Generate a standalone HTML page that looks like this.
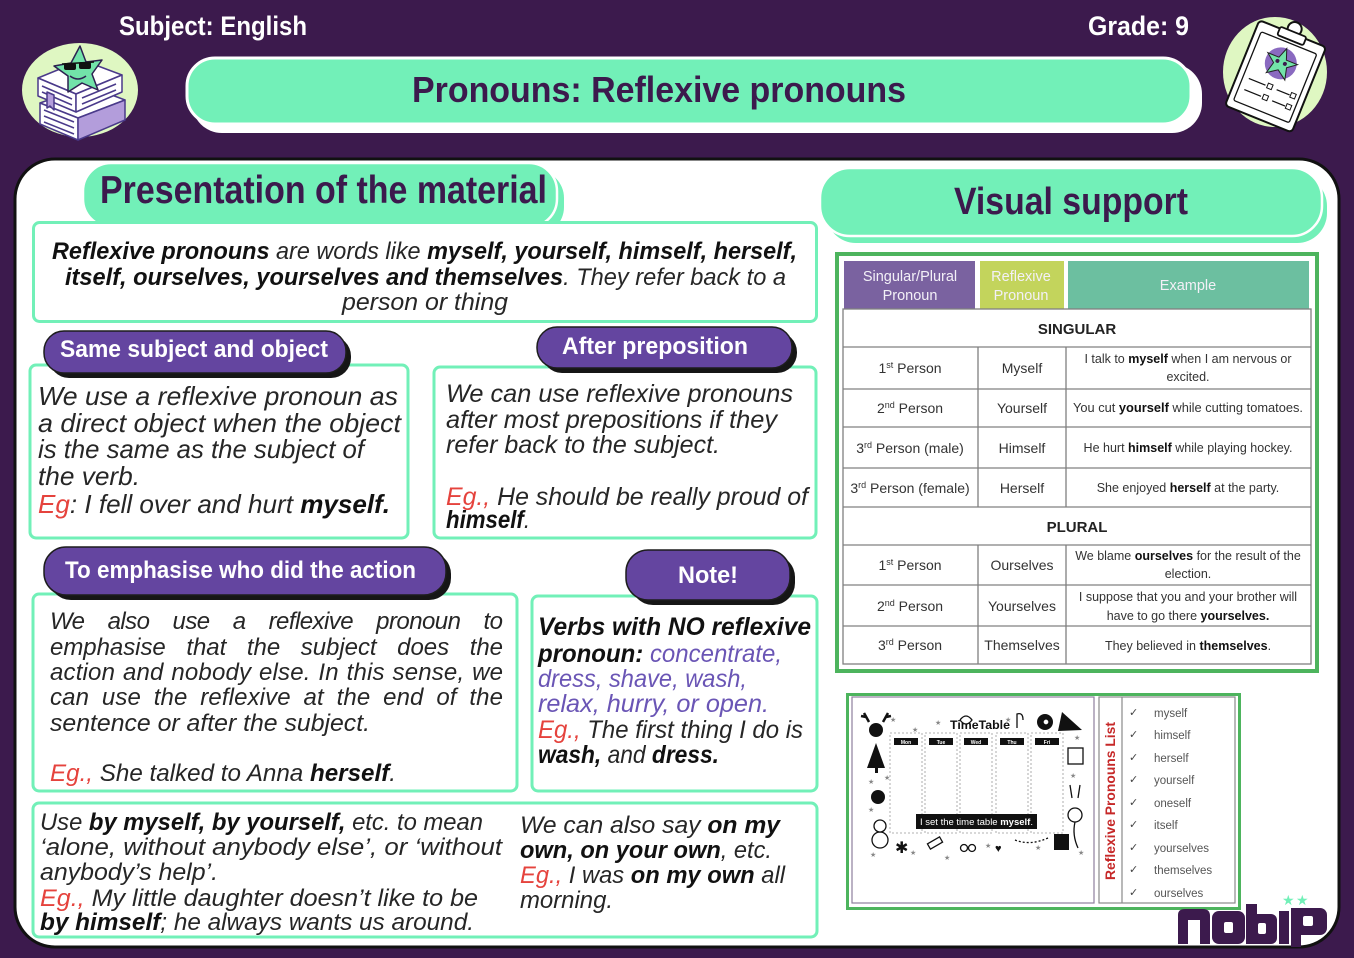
<!DOCTYPE html>
<html><head><meta charset="utf-8"><title>Pronouns: Reflexive pronouns</title>
<style>html,body{margin:0;padding:0;background:#3c1a4d;}svg{display:block}</style></head>
<body>
<svg width="1354" height="958" viewBox="0 0 1354 958" xmlns="http://www.w3.org/2000/svg">
<style>
text{font-family:"Liberation Sans","DejaVu Sans",sans-serif;}
.h{font-weight:bold;fill:#fff;font-size:27px}
.tt{font-weight:bold;fill:#3c1a4d}
.pl{font-weight:bold;fill:#fff;font-size:24px}
.b{font-style:italic;fill:#262626}
.k{font-weight:bold;fill:#111}
.r{fill:#e5433d}
.v{fill:#6a55b5}
.tb{font-size:14px;fill:#333;text-anchor:middle}
.ex{font-size:12.5px;fill:#333;text-anchor:middle}
.th{font-size:14.5px;fill:#f3f0f7;text-anchor:middle}
.li{font-size:11.5px;fill:#555}
.ck{font-size:11px;fill:#444}
</style>
<rect x="0" y="0" width="1354" height="958" fill="#3c1a4d"/>

<!-- header -->
<text class="h" x="119" y="35" textLength="188" lengthAdjust="spacingAndGlyphs">Subject: English</text>
<text class="h" x="1088" y="35" textLength="101" lengthAdjust="spacingAndGlyphs">Grade: 9</text>

<!-- title pill -->
<rect x="192" y="64" width="1010" height="69" rx="30" fill="#ffffff"/>
<rect x="187" y="58" width="1004" height="66" rx="28" fill="#72f0b8" stroke="#ffffff" stroke-width="3"/>
<text class="tt" x="412" y="102" font-size="36" textLength="494" lengthAdjust="spacingAndGlyphs">Pronouns: Reflexive pronouns</text>

<!-- left icon -->
<ellipse cx="80" cy="90" rx="58" ry="47" fill="#dff7c2"/>
<g stroke="#4a3a8a" stroke-width="1.5" stroke-linejoin="round">
  <polygon points="40,103 88,86 125,100 78,118" fill="#ffffff"/>
  <polygon points="40,103 78,118 78,140 40,124" fill="#ffffff"/>
  <polygon points="78,118 125,100 125,120 78,140" fill="#b39ddb"/>
  <line x1="44" y1="110" x2="74" y2="122"/><line x1="44" y1="116" x2="74" y2="128"/><line x1="44" y1="122" x2="74" y2="134"/>
  <polygon points="38,78 82,60 122,75 76,94" fill="#ffffff"/>
  <polygon points="38,78 76,94 76,112 38,96" fill="#ffffff"/>
  <polygon points="76,94 122,75 122,92 76,112" fill="#ffffff"/>
  <line x1="82" y1="98" x2="116" y2="84"/><line x1="82" y1="104" x2="116" y2="90"/>
  <line x1="42" y1="86" x2="72" y2="99"/><line x1="42" y1="92" x2="72" y2="105"/>
  <polygon points="47,92 54,95 54,110 50,106 47,108" fill="#b39ddb"/>
</g>
<polygon points="80,46 86,62 102,60 92,74 98,90 82,83 68,92 68,76 54,66 71,63" fill="#72e3a9" stroke="#2d2050" stroke-width="1.5" stroke-linejoin="round"/>
<rect x="64" y="63" width="12" height="7" rx="2" fill="#111"/>
<rect x="79" y="62" width="12" height="7" rx="2" fill="#111"/>
<line x1="62" y1="64" x2="94" y2="62" stroke="#111" stroke-width="1.5"/>
<path d="M70,76 Q78,82 86,76" fill="none" stroke="#2d2050" stroke-width="1.5"/>

<!-- right icon -->
<ellipse cx="1275" cy="72" rx="52" ry="55" fill="#dff7c2"/>
<g transform="rotate(22 1275 75)">
  <rect x="1240" y="30" width="72" height="92" rx="4" fill="#ffffff" stroke="#111" stroke-width="2"/>
  <rect x="1246" y="40" width="60" height="74" rx="2" fill="#ffffff" stroke="#111" stroke-width="1.3"/>
  <circle cx="1276" cy="25" r="7" fill="#fff" stroke="#111" stroke-width="2"/>
  <rect x="1262" y="28" width="28" height="9" rx="2" fill="#ffffff" stroke="#111" stroke-width="1.8"/>
  <circle cx="1276" cy="62" r="16" fill="#8a6ac0"/>
  <polygon points="1276,46 1280,57 1292,57 1283,64 1286,76 1276,69 1266,76 1269,64 1260,57 1272,57" fill="#72e3a9" stroke="#222" stroke-width="1"/>
  <circle cx="1272" cy="61" r="2" fill="#3c1a4d"/><circle cx="1280" cy="61" r="2" fill="#3c1a4d"/>
  <line x1="1252" y1="88" x2="1270" y2="88" stroke="#111" stroke-width="1.3"/>
  <rect x="1272" y="85" width="5" height="5" fill="none" stroke="#111"/>
  <line x1="1282" y1="88" x2="1296" y2="88" stroke="#111" stroke-width="1.3"/>
  <rect x="1297" y="85" width="5" height="5" fill="none" stroke="#111"/>
  <line x1="1252" y1="100" x2="1270" y2="100" stroke="#111" stroke-width="1.3"/>
  <rect x="1272" y="97" width="5" height="5" fill="none" stroke="#111"/>
  <line x1="1282" y1="100" x2="1296" y2="100" stroke="#111" stroke-width="1.3"/>
  <rect x="1297" y="97" width="5" height="5" fill="none" stroke="#111"/>
</g>

<!-- main white panel -->
<rect x="15" y="159" width="1324" height="788" rx="40" fill="#ffffff" stroke="#111" stroke-width="3"/>

<!-- Presentation pill -->
<rect x="89" y="170" width="475" height="65" rx="28" fill="#72f0b8"/>
<rect x="83" y="163" width="474" height="64" rx="28" fill="#72f0b8" stroke="#ffffff" stroke-width="2.5"/>
<text class="tt" x="100" y="203" font-size="39" textLength="447" lengthAdjust="spacingAndGlyphs">Presentation of the material</text>

<!-- Visual support pill -->
<rect x="826" y="176" width="501" height="67" rx="30" fill="#72f0b8"/>
<rect x="820" y="168" width="502" height="68" rx="30" fill="#72f0b8" stroke="#ffffff" stroke-width="2.5"/>
<text class="tt" x="954" y="214" font-size="38" textLength="234" lengthAdjust="spacingAndGlyphs">Visual support</text>

<!-- green boxes -->
<g fill="#ffffff" stroke="#72f0b8" stroke-width="3">
  <rect x="33.5" y="222.5" width="783" height="99" rx="6"/>
  <rect x="30" y="365" width="378" height="173" rx="6"/>
  <rect x="434" y="367" width="382" height="171" rx="6"/>
  <rect x="33" y="594" width="484" height="197" rx="6"/>
  <rect x="532" y="596" width="285" height="195" rx="6"/>
  <rect x="33" y="803" width="784" height="134" rx="6"/>
</g>

<!-- purple pills -->
<g>
  <rect x="49" y="336" width="302" height="42" rx="20" fill="#161616"/>
  <rect x="44" y="331" width="302" height="42" rx="20" fill="#6445a0" stroke="#1d1d1d" stroke-width="1.5"/>
  <rect x="542" y="332" width="255" height="41" rx="20" fill="#161616"/>
  <rect x="537" y="327" width="255" height="41" rx="20" fill="#6445a0" stroke="#1d1d1d" stroke-width="1.5"/>
  <rect x="49" y="552" width="402" height="48" rx="22" fill="#161616"/>
  <rect x="44" y="547" width="402" height="48" rx="22" fill="#6445a0" stroke="#1d1d1d" stroke-width="1.5"/>
  <rect x="631" y="555" width="164" height="50" rx="22" fill="#161616"/>
  <rect x="626" y="550" width="164" height="50" rx="22" fill="#6445a0" stroke="#1d1d1d" stroke-width="1.5"/>
</g>
<text class="pl" x="60" y="357" textLength="268" lengthAdjust="spacingAndGlyphs">Same subject and object</text>
<text class="pl" x="562" y="354" textLength="186" lengthAdjust="spacingAndGlyphs">After preposition</text>
<text class="pl" x="65" y="578" textLength="351" lengthAdjust="spacingAndGlyphs">To emphasise who did the action</text>
<text class="pl" x="678" y="583" textLength="60" lengthAdjust="spacingAndGlyphs">Note!</text>

<!-- definition -->
<g class="b" font-size="24">
<text x="52" y="259" textLength="745" lengthAdjust="spacingAndGlyphs"><tspan class="k">Reflexive pronouns</tspan> are words like <tspan class="k">myself, yourself, himself, herself,</tspan></text>
<text x="65" y="285" textLength="721" lengthAdjust="spacingAndGlyphs"><tspan class="k">itself, ourselves, yourselves and themselves</tspan>. They refer back to a</text>
<text x="342" y="310" textLength="166" lengthAdjust="spacingAndGlyphs">person or thing</text>
</g>

<!-- box1 -->
<g class="b" font-size="26">
<text x="38" y="405" textLength="360" lengthAdjust="spacingAndGlyphs">We use a reflexive pronoun as</text>
<text x="38" y="432" textLength="363" lengthAdjust="spacingAndGlyphs">a direct object when the object</text>
<text x="38" y="458" textLength="326" lengthAdjust="spacingAndGlyphs">is the same as the subject of</text>
<text x="38" y="485" textLength="102" lengthAdjust="spacingAndGlyphs">the verb.</text>
<text x="38" y="513" textLength="352" lengthAdjust="spacingAndGlyphs"><tspan class="r">Eg</tspan>:  I fell over and hurt <tspan class="k">myself.</tspan></text>
</g>

<!-- box2 -->
<g class="b" font-size="25">
<text x="446" y="402" textLength="347" lengthAdjust="spacingAndGlyphs">We can use reflexive pronouns</text>
<text x="446" y="428" textLength="331" lengthAdjust="spacingAndGlyphs">after most prepositions if they</text>
<text x="446" y="453" textLength="274" lengthAdjust="spacingAndGlyphs">refer back to the subject.</text>
<text x="446" y="505" textLength="362" lengthAdjust="spacingAndGlyphs"><tspan class="r">Eg.,</tspan> He should be really proud of</text>
<text x="446" y="528" textLength="84" lengthAdjust="spacingAndGlyphs"><tspan class="k">himself</tspan>.</text>
</g>

<!-- box3 -->
<g class="b" font-size="24">
<text x="50" y="629" word-spacing="17" textLength="453" lengthAdjust="spacing">We also use a reflexive pronoun to</text>
<text x="50" y="655" word-spacing="14" textLength="453" lengthAdjust="spacing">emphasise that the subject does the</text>
<text x="50" y="680" word-spacing="1" textLength="453" lengthAdjust="spacing">action and nobody else. In this sense, we</text>
<text x="50" y="705" word-spacing="6" textLength="453" lengthAdjust="spacing">can use the reflexive at the end of the</text>
<text x="50" y="731" textLength="320" lengthAdjust="spacingAndGlyphs">sentence or after the subject.</text>
<text x="50" y="781" textLength="346" lengthAdjust="spacingAndGlyphs"><tspan class="r">Eg.,</tspan> She talked to Anna <tspan class="k">herself</tspan>.</text>
</g>

<!-- box4 -->
<g class="b" font-size="25">
<text x="538" y="635" textLength="273" lengthAdjust="spacingAndGlyphs"><tspan class="k">Verbs with NO reflexive</tspan></text>
<text x="538" y="662" textLength="244" lengthAdjust="spacingAndGlyphs"><tspan class="k">pronoun:</tspan> <tspan class="v">concentrate,</tspan></text>
<text x="538" y="687" textLength="209" lengthAdjust="spacingAndGlyphs"><tspan class="v">dress, shave, wash,</tspan></text>
<text x="538" y="712" textLength="231" lengthAdjust="spacingAndGlyphs"><tspan class="v">relax, hurry, or open.</tspan></text>
<text x="538" y="738" textLength="265" lengthAdjust="spacingAndGlyphs"><tspan class="r">Eg.,</tspan> The first thing I do is</text>
<text x="538" y="763" textLength="181" lengthAdjust="spacingAndGlyphs"><tspan class="k">wash,</tspan> and <tspan class="k">dress.</tspan></text>
</g>

<!-- box5 -->
<g class="b" font-size="24">
<text x="40" y="830" textLength="443" lengthAdjust="spacingAndGlyphs">Use <tspan class="k">by myself, by yourself,</tspan> etc. to mean</text>
<text x="40" y="855" textLength="462" lengthAdjust="spacingAndGlyphs">‘alone, without anybody else’, or ‘without</text>
<text x="40" y="880" textLength="178" lengthAdjust="spacingAndGlyphs">anybody’s help’.</text>
<text x="40" y="906" textLength="438" lengthAdjust="spacingAndGlyphs"><tspan class="r">Eg.,</tspan> My little daughter doesn’t like to be</text>
<text x="40" y="930" textLength="434" lengthAdjust="spacingAndGlyphs"><tspan class="k">by himself</tspan>; he always wants us around.</text>
<text x="520" y="833" textLength="260" lengthAdjust="spacingAndGlyphs">We can also say <tspan class="k">on my</tspan></text>
<text x="520" y="858" textLength="252" lengthAdjust="spacingAndGlyphs"><tspan class="k">own, on your own</tspan>, etc.</text>
<text x="520" y="883" textLength="265" lengthAdjust="spacingAndGlyphs"><tspan class="r">Eg.,</tspan> I was <tspan class="k">on my own</tspan> all</text>
<text x="520" y="908" textLength="93" lengthAdjust="spacingAndGlyphs">morning.</text>
</g>

<!-- TABLE -->
<rect x="837" y="254" width="480" height="417" fill="#ffffff" stroke="#4db45d" stroke-width="4"/>
<rect x="844" y="261" width="131" height="48" fill="#7a62a0"/>
<rect x="980" y="261" width="84" height="48" fill="#c3d45c"/>
<rect x="1068" y="261" width="241" height="48" fill="#6cbfa0"/>
<text class="th" x="910" y="281">Singular/Plural</text>
<text class="th" x="910" y="300">Pronoun</text>
<text class="th" x="1021" y="281">Reflexive</text>
<text class="th" x="1021" y="300">Pronoun</text>
<text class="th" x="1188" y="290">Example</text>
<g stroke="#808080" stroke-width="1.3" fill="none">
  <rect x="843" y="309" width="468" height="355"/>
  <line x1="843" y1="347" x2="1311" y2="347"/>
  <line x1="843" y1="389" x2="1311" y2="389"/>
  <line x1="843" y1="427" x2="1311" y2="427"/>
  <line x1="843" y1="468" x2="1311" y2="468"/>
  <line x1="843" y1="507" x2="1311" y2="507"/>
  <line x1="843" y1="545" x2="1311" y2="545"/>
  <line x1="843" y1="585" x2="1311" y2="585"/>
  <line x1="843" y1="626" x2="1311" y2="626"/>
  <line x1="978" y1="347" x2="978" y2="507"/>
  <line x1="1066" y1="347" x2="1066" y2="507"/>
  <line x1="978" y1="545" x2="978" y2="664"/>
  <line x1="1066" y1="545" x2="1066" y2="664"/>
</g>
<text x="1077" y="334" font-size="15" font-weight="bold" fill="#222" text-anchor="middle">SINGULAR</text>
<text x="1077" y="532" font-size="15" font-weight="bold" fill="#222" text-anchor="middle">PLURAL</text>

<text class="tb" x="910" y="373">1<tspan font-size="9" dy="-5">st</tspan><tspan dy="5"> Person</tspan></text>
<text class="tb" x="1022" y="373">Myself</text>
<text class="ex" x="1188" y="363">I talk to <tspan class="k">myself</tspan> when I am nervous or</text>
<text class="ex" x="1188" y="381">excited.</text>

<text class="tb" x="910" y="413">2<tspan font-size="9" dy="-5">nd</tspan><tspan dy="5"> Person</tspan></text>
<text class="tb" x="1022" y="413">Yourself</text>
<text class="ex" x="1188" y="412" textLength="230" lengthAdjust="spacingAndGlyphs">You cut <tspan class="k">yourself</tspan> while cutting tomatoes.</text>

<text class="tb" x="910" y="453">3<tspan font-size="9" dy="-5">rd</tspan><tspan dy="5"> Person (male)</tspan></text>
<text class="tb" x="1022" y="453">Himself</text>
<text class="ex" x="1188" y="452">He hurt <tspan class="k">himself</tspan> while playing hockey.</text>

<text class="tb" x="910" y="493">3<tspan font-size="9" dy="-5">rd</tspan><tspan dy="5"> Person (female)</tspan></text>
<text class="tb" x="1022" y="493">Herself</text>
<text class="ex" x="1188" y="492">She enjoyed <tspan class="k">herself</tspan> at the party.</text>

<text class="tb" x="910" y="570">1<tspan font-size="9" dy="-5">st</tspan><tspan dy="5"> Person</tspan></text>
<text class="tb" x="1022" y="570">Ourselves</text>
<text class="ex" x="1188" y="560">We blame <tspan class="k">ourselves</tspan> for the result of the</text>
<text class="ex" x="1188" y="578">election.</text>

<text class="tb" x="910" y="611">2<tspan font-size="9" dy="-5">nd</tspan><tspan dy="5"> Person</tspan></text>
<text class="tb" x="1022" y="611">Yourselves</text>
<text class="ex" x="1188" y="601">I suppose that you and your brother will</text>
<text class="ex" x="1188" y="620">have to go there <tspan class="k">yourselves.</tspan></text>

<text class="tb" x="910" y="650">3<tspan font-size="9" dy="-5">rd</tspan><tspan dy="5"> Person</tspan></text>
<text class="tb" x="1022" y="650">Themselves</text>
<text class="ex" x="1188" y="650">They believed in <tspan class="k">themselves</tspan>.</text>

<!-- bottom image -->
<rect x="847.5" y="694.5" width="392" height="214" fill="#ffffff" stroke="#4db45d" stroke-width="3"/>
<rect x="852" y="697" width="242" height="206" fill="#ffffff" stroke="#8e7f9c" stroke-width="1.2"/>
<rect x="1099" y="697" width="136" height="206" fill="#ffffff" stroke="#8a8a8a" stroke-width="1.2"/>
<line x1="1122" y1="697" x2="1122" y2="903" stroke="#8a8a8a" stroke-width="1.2"/>
<text transform="translate(1115,801) rotate(-90)" text-anchor="middle" font-size="14" font-weight="bold" fill="#c62828" textLength="158" lengthAdjust="spacingAndGlyphs">Reflexive Pronouns List</text>
<g class="ck">
<text x="1129" y="716">✓</text><text x="1129" y="738">✓</text><text x="1129" y="761">✓</text>
<text x="1129" y="783">✓</text><text x="1129" y="806">✓</text><text x="1129" y="828">✓</text>
<text x="1129" y="851">✓</text><text x="1129" y="873">✓</text><text x="1129" y="896">✓</text>
</g>
<g class="li">
<text x="1154" y="717">myself</text>
<text x="1154" y="739">himself</text>
<text x="1154" y="762">herself</text>
<text x="1154" y="784">yourself</text>
<text x="1154" y="807">oneself</text>
<text x="1154" y="829">itself</text>
<text x="1154" y="852">yourselves</text>
<text x="1154" y="874">themselves</text>
<text x="1154" y="897">ourselves</text>
</g>

<!-- timetable illustration -->
<text x="950" y="729" font-size="12" font-weight="bold" fill="#111" textLength="60" lengthAdjust="spacingAndGlyphs">TimeTable</text>
<g fill="none" stroke="#999" stroke-width="0.8" stroke-dasharray="2 2">
  <rect x="890" y="733" width="32" height="100"/>
  <rect x="925" y="733" width="32" height="100"/>
  <rect x="960" y="733" width="32" height="100"/>
  <rect x="996" y="733" width="32" height="100"/>
  <rect x="1031" y="733" width="32" height="100"/>
</g>
<g fill="#111">
  <rect x="894" y="738" width="24" height="7"/><rect x="929" y="738" width="24" height="7"/>
  <rect x="964" y="738" width="24" height="7"/><rect x="1000" y="738" width="24" height="7"/>
  <rect x="1035" y="738" width="24" height="7"/>
</g>
<g font-size="5" fill="#fff" text-anchor="middle" font-weight="bold">
  <text x="906" y="744">Mon</text><text x="941" y="744">Tue</text><text x="976" y="744">Wed</text>
  <text x="1012" y="744">Thu</text><text x="1047" y="744">Fri</text>
</g>
<rect x="916" y="814" width="121" height="15" fill="#111"/>
<text x="920" y="825" font-size="9" fill="#fff" textLength="113" lengthAdjust="spacingAndGlyphs">I set the time table <tspan font-weight="bold">myself</tspan>.</text>
<!-- decorations -->
<g fill="#111">
  <circle cx="876" cy="730" r="7"/>
  <path d="M869,722 L864,713 M866,717 L861,716 M883,722 L888,713 M886,717 L891,716" stroke="#111" stroke-width="2.5"/>
  <polygon points="876,743 867,768 885,768"/>
  <rect x="875" y="768" width="3" height="5"/>
  <circle cx="878" cy="797" r="7"/>
  <rect x="1054" y="834" width="15" height="16"/>
  <polygon points="1062,712 1082,730 1058,731"/>
  <circle cx="1045" cy="722" r="8"/>
  <text x="895" y="853" font-size="16">✱</text>
  <text x="995" y="852" font-size="11">♥</text>
</g>
<g fill="#fff" stroke="#111" stroke-width="1.3">
  <circle cx="880" cy="840" r="8"/><circle cx="880" cy="826" r="6"/>
  <rect x="1068" y="748" width="15" height="16"/>
  <circle cx="1075" cy="815" r="7"/>
  <circle cx="1046" cy="722" r="3"/>
  <rect x="928" y="840" width="14" height="6" transform="rotate(-30 935 843)"/>
  <circle cx="964" cy="848" r="3.5"/><circle cx="972" cy="848" r="3.5"/>
  <path d="M1070,785 L1072,798 M1080,785 L1078,798" fill="none"/>
  <path d="M1075,822 Q1072,835 1078,848" fill="none"/>
  <path d="M1015,840 Q1030,846 1048,838" fill="none" stroke-dasharray="2 2"/>
  <path d="M1023,720 Q1023,712 1017,714 L1017,728" fill="none"/>
  <path d="M960,720 q6,-8 12,0 q-6,8 -12,0" />
</g>
<g font-size="7" fill="#888">
  <text x="890" y="722">★</text><text x="935" y="725">★</text><text x="1005" y="722">★</text>
  <text x="868" y="784">★</text><text x="884" y="780">★</text><text x="868" y="812">★</text>
  <text x="1070" y="778">★</text><text x="1074" y="740">★</text><text x="910" y="855">★</text>
  <text x="944" y="860">★</text><text x="985" y="848">★</text><text x="1035" y="850">★</text>
  <text x="1078" y="855">★</text><text x="870" y="857">★</text><text x="912" y="732">★</text>
</g>

<!-- logo -->
<g fill="#3c1a4d">
  <path d="M1178,944 V915 Q1178,909 1185,909 H1203 Q1210,909 1210,916 V944 H1200 V920 H1188 V944 Z"/>
  <rect x="1212" y="911" width="33" height="33" rx="7"/>
  <rect x="1246" y="904" width="11" height="40"/>
  <rect x="1246" y="914" width="31" height="30" rx="6"/>
  <rect x="1279" y="911" width="10" height="33"/>
  <rect x="1291" y="908" width="10" height="39"/>
  <rect x="1291" y="908" width="36" height="27" rx="7"/>
</g>
<g fill="#ffffff">
  <rect x="1224" y="922" width="9" height="11" rx="2"/>
  <rect x="1258" y="923" width="8" height="11" rx="2"/>
  <rect x="1303" y="916" width="10" height="10" rx="2"/>
</g>
<text x="1282" y="905" font-size="14" fill="#72f0b8">★</text>
<text x="1296" y="905" font-size="14" fill="#72f0b8">★</text>
</svg>
</body></html>
